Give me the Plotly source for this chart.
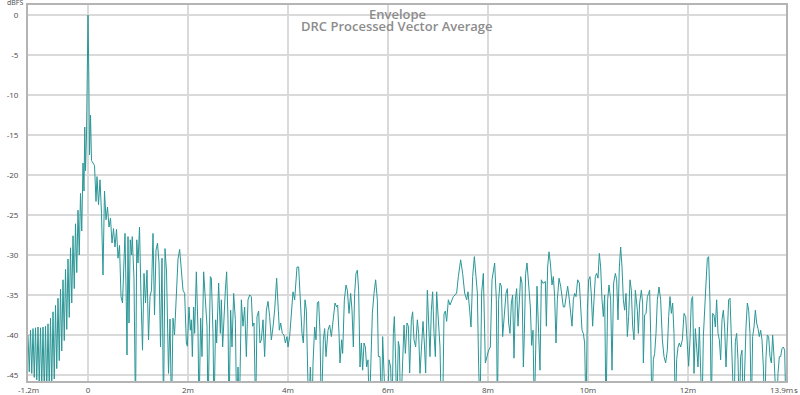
import plotly.graph_objects as go

# ---------------- data (time in ms, level in dBFS) ----------------
# values below the axis floor are written as -50 (clipped by the axis)
pre_ring = [
    (-1.200, -40.0), (-1.175, -44.6), (-1.150, -39.4), (-1.125, -44.8), (-1.100, -39.2), (-1.075, -45.3),
    (-1.050, -39.1), (-1.025, -45.6), (-1.000, -39.0), (-0.975, -46.0), (-0.950, -39.1), (-0.925, -46.5),
    (-0.900, -39.0), (-0.875, -47.0), (-0.850, -38.9), (-0.825, -47.0), (-0.800, -38.6), (-0.775, -46.8),
    (-0.750, -37.9), (-0.725, -46.3), (-0.700, -37.1), (-0.675, -45.5), (-0.650, -36.3), (-0.625, -44.2),
    (-0.600, -35.4), (-0.575, -43.2), (-0.550, -34.3), (-0.525, -42.0), (-0.500, -33.1), (-0.475, -40.7),
    (-0.450, -31.8), (-0.425, -39.3), (-0.400, -30.5), (-0.375, -37.8), (-0.350, -29.1), (-0.325, -36.0),
    (-0.300, -27.6), (-0.275, -34.2), (-0.250, -26.1), (-0.225, -32.2), (-0.200, -24.4), (-0.175, -30.0),
    (-0.150, -22.3), (-0.125, -27.0), (-0.100, -18.5), (-0.080, -22.0), (-0.065, -14.0), (-0.050, -19.5),
]

main_peak = [
    (-0.03, -15.0), (-0.015, -6.0), (0.0, 0.0), (0.015, -7.0), (0.03, -17.5),
    (0.05, -12.5), (0.07, -18.2), (0.10, -18.5), (0.13, -18.8),
]

early_decay = [
    (0.16, -23.3), (0.18, -20.2), (0.21, -23.7), (0.24, -20.6), (0.27, -24.8), (0.30, -32.5),
    (0.33, -22.0), (0.36, -25.6), (0.39, -24.0), (0.42, -26.5), (0.45, -25.4), (0.48, -28.5),
    (0.51, -26.7), (0.54, -29.0), (0.57, -26.8), (0.60, -30.4), (0.63, -28.8), (0.66, -35.2),
    (0.69, -36.0), (0.72, -30.0), (0.74, -27.3), (0.765, -35.8), (0.78, -42.5), (0.80, -27.7),
    (0.82, -38.5), (0.845, -28.1), (0.87, -30.0), (0.885, -27.7), (0.92, -33.0), (0.95, -50.0),
    (0.975, -28.1), (1.00, -31.0), (1.03, -26.5), (1.06, -35.2), (1.09, -41.9), (1.12, -32.3),
    (1.15, -36.0), (1.18, -31.9), (1.21, -40.6), (1.24, -35.2), (1.27, -34.4), (1.30, -27.3),
    (1.33, -37.5), (1.36, -29.4), (1.39, -28.5), (1.42, -31.0), (1.45, -41.5), (1.48, -30.4),
    (1.51, -50.0), (1.54, -29.2), (1.57, -32.0), (1.61, -44.8), (1.64, -38.0), (1.67, -50.0),
    (1.70, -37.9), (1.73, -40.0), (1.76, -35.4), (1.80, -30.5),
]

tail_2_5ms = [
    (1.833, -29.3), (1.900, -34.4), (1.933, -34.8), (1.967, -41.0), (1.987, -41.4), (2.020, -36.5),
    (2.047, -39.4), (2.067, -38.1), (2.087, -42.7), (2.113, -36.5), (2.133, -39.8), (2.167, -32.1),
    (2.200, -39.4), (2.220, -50.0), (2.253, -37.9), (2.280, -42.7), (2.313, -32.1), (2.347, -36.0),
    (2.380, -38.9), (2.400, -50.0), (2.447, -32.7), (2.467, -32.9), (2.500, -39.8), (2.520, -50.0),
    (2.553, -38.1), (2.573, -41.0), (2.613, -33.5), (2.647, -39.8), (2.667, -35.6), (2.693, -41.5),
    (2.720, -36.9), (2.747, -34.4), (2.773, -32.1), (2.800, -38.1), (2.820, -50.0), (2.853, -36.9),
    (2.880, -41.5), (2.913, -34.8), (2.947, -38.1), (2.973, -50.0), (3.000, -44.0), (3.027, -50.0),
    (3.067, -35.6), (3.100, -38.9), (3.133, -36.5), (3.167, -42.7), (3.200, -35.6), (3.233, -35.0),
    (3.267, -35.2), (3.293, -38.9), (3.320, -38.5), (3.353, -50.0), (3.380, -37.7), (3.413, -37.0),
    (3.440, -41.0), (3.467, -40.6), (3.500, -38.1), (3.533, -42.7), (3.567, -36.9), (3.600, -35.8),
    (3.633, -37.7), (3.667, -40.6), (3.700, -39.0), (3.733, -36.9), (3.773, -32.9), (3.800, -35.6),
    (3.827, -39.4), (3.853, -38.5), (3.887, -39.8), (3.920, -40.0), (3.947, -41.0), (3.980, -40.2),
    (4.000, -41.5), (4.033, -40.2), (4.067, -36.9), (4.100, -34.6), (4.133, -35.6), (4.153, -34.2),
    (4.180, -31.5), (4.213, -31.5), (4.247, -35.6), (4.280, -39.8), (4.307, -41.0), (4.340, -35.6),
    (4.367, -36.9), (4.393, -42.3), (4.413, -50.0), (4.447, -44.0), (4.480, -50.0), (4.500, -43.6),
    (4.533, -39.0), (4.560, -40.6), (4.587, -36.0), (4.613, -35.8), (4.640, -39.8), (4.667, -50.0),
    (4.707, -40.6), (4.733, -39.2), (4.760, -42.7), (4.800, -39.4), (4.833, -38.75), (4.867, -40.2),
]

tail_5_8ms = [
    (4.907, -38.1), (4.940, -36.0), (4.973, -36.5), (4.993, -36.25), (5.020, -39.8), (5.040, -43.5),
    (5.073, -40.6), (5.093, -42.3), (5.127, -35.6), (5.160, -33.75), (5.187, -34.4), (5.220, -37.3),
    (5.253, -34.8), (5.280, -36.9), (5.307, -41.5), (5.333, -34.8), (5.360, -32.3), (5.387, -31.9),
    (5.413, -34.4), (5.440, -44.0), (5.467, -41.0), (5.493, -44.4), (5.520, -41.0), (5.547, -41.5),
    (5.573, -44.0), (5.600, -43.1), (5.627, -50.0), (5.653, -43.5), (5.687, -37.3), (5.720, -34.8),
    (5.753, -33.1), (5.787, -35.6), (5.807, -42.7), (5.840, -42.7), (5.873, -50.0), (5.893, -40.2),
    (5.920, -44.4), (5.953, -50.0), (5.987, -50.0), (6.020, -43.1), (6.053, -44.0), (6.080, -50.0),
    (6.107, -39.8), (6.127, -37.7), (6.153, -43.1), (6.173, -50.0), (6.207, -40.8), (6.227, -41.5),
    (6.253, -50.0), (6.287, -44.0), (6.320, -38.75), (6.347, -42.3), (6.380, -38.5), (6.407, -38.9),
    (6.433, -44.75), (6.467, -38.1), (6.493, -37.1), (6.520, -40.6), (6.553, -41.5), (6.587, -38.1),
    (6.613, -39.8), (6.640, -44.8), (6.673, -40.2), (6.700, -38.3), (6.727, -41.0), (6.753, -44.75),
    (6.787, -34.4), (6.813, -38.1), (6.840, -42.7), (6.867, -36.9), (6.893, -34.6), (6.920, -39.8),
    (6.947, -42.7), (6.973, -34.6), (7.007, -38.9), (7.040, -41.5), (7.067, -50.0), (7.093, -50.0),
    (7.120, -37.4), (7.147, -37.0), (7.173, -38.3), (7.207, -35.6), (7.240, -36.25), (7.273, -35.6),
    (7.307, -35.2), (7.340, -35.0), (7.373, -34.75), (7.407, -32.7), (7.453, -30.6), (7.493, -32.3),
    (7.533, -34.75), (7.573, -35.6), (7.600, -34.6), (7.633, -36.9), (7.660, -39.0), (7.693, -32.7),
    (7.727, -30.2), (7.760, -32.7), (7.787, -34.75), (7.813, -43.9), (7.840, -50.0), (7.873, -34.75),
    (7.907, -32.3),
]

tail_8_11ms = [
    (7.947, -43.5), (7.980, -42.7), (8.013, -41.9), (8.047, -41.5), (8.080, -33.1), (8.133, -31.0),
    (8.167, -35.6), (8.187, -50.0), (8.213, -35.6), (8.240, -33.5), (8.267, -33.9), (8.293, -40.2),
    (8.327, -36.9), (8.360, -34.8), (8.387, -34.2), (8.413, -38.5), (8.440, -39.8), (8.467, -36.0),
    (8.493, -35.0), (8.520, -42.9), (8.547, -35.6), (8.573, -34.2), (8.600, -38.9), (8.627, -35.6),
    (8.653, -32.7), (8.680, -33.5), (8.707, -44.0), (8.727, -39.8), (8.753, -32.3), (8.780, -31.0),
    (8.813, -33.5), (8.847, -36.5), (8.873, -41.3), (8.900, -39.4), (8.927, -50.0), (8.953, -39.8),
    (8.980, -33.9), (9.013, -39.8), (9.040, -44.4), (9.067, -33.1), (9.093, -33.5), (9.120, -33.5),
    (9.147, -33.3), (9.167, -38.9), (9.193, -31.5), (9.220, -29.6), (9.247, -31.0), (9.280, -33.75),
    (9.307, -32.7), (9.333, -35.2), (9.360, -41.0), (9.387, -35.6), (9.420, -32.9), (9.453, -33.9),
    (9.480, -35.2), (9.507, -36.5), (9.533, -36.5), (9.560, -35.2), (9.593, -33.9), (9.627, -35.6),
    (9.653, -37.1), (9.680, -38.9), (9.707, -35.6), (9.733, -34.8), (9.760, -35.2), (9.793, -33.1),
    (9.827, -33.5), (9.853, -36.9), (9.880, -39.4), (9.907, -39.8), (9.933, -41.0), (9.960, -50.0),
    (9.987, -36.9), (10.013, -33.1), (10.040, -32.7), (10.067, -35.0), (10.093, -38.9), (10.120, -35.6),
    (10.147, -32.7), (10.173, -32.3), (10.200, -32.9), (10.227, -29.8), (10.253, -31.5), (10.280, -35.6),
    (10.307, -37.7), (10.333, -35.0), (10.360, -50.0), (10.393, -35.6), (10.420, -33.75), (10.453, -35.6),
    (10.480, -44.4), (10.513, -33.5), (10.547, -32.3), (10.573, -33.1), (10.600, -38.1), (10.627, -31.5),
    (10.653, -29.0), (10.680, -31.5), (10.707, -35.6), (10.733, -36.9), (10.760, -34.8), (10.787, -40.2),
    (10.813, -37.7), (10.840, -33.1), (10.867, -34.4), (10.893, -38.9), (10.920, -40.6), (10.947, -34.4),
]

tail_11_14ms = [
    (10.987, -36.9), (11.007, -39.8), (11.033, -36.0), (11.067, -34.4), (11.093, -36.0), (11.107, -43.5),
    (11.133, -37.5), (11.160, -37.3), (11.187, -35.2), (11.213, -34.8), (11.233, -34.4), (11.253, -39.8),
    (11.280, -50.0), (11.307, -43.1), (11.333, -42.3), (11.360, -39.8), (11.387, -35.6), (11.420, -34.0),
    (11.453, -35.6), (11.487, -40.6), (11.520, -42.7), (11.553, -43.5), (11.587, -41.9), (11.613, -37.7),
    (11.640, -35.2), (11.667, -37.3), (11.693, -36.0), (11.720, -39.8), (11.747, -50.0), (11.773, -43.1),
    (11.800, -41.5), (11.827, -41.0), (11.853, -41.5), (11.887, -40.6), (11.920, -37.3), (11.953, -37.7),
    (11.987, -41.0), (12.013, -43.9), (12.040, -40.6), (12.067, -35.6), (12.093, -35.2), (12.120, -44.8),
    (12.147, -39.2), (12.173, -41.5), (12.200, -44.0), (12.227, -39.0), (12.253, -42.7), (12.280, -50.0),
    (12.307, -40.2), (12.333, -36.0), (12.360, -33.5), (12.387, -30.4), (12.413, -30.2), (12.440, -36.0),
    (12.467, -50.0), (12.493, -37.3), (12.520, -37.5), (12.547, -39.0), (12.573, -35.6), (12.600, -39.8),
    (12.627, -40.6), (12.653, -43.1), (12.680, -38.1), (12.707, -36.9), (12.733, -39.0), (12.760, -44.0),
    (12.787, -40.6), (12.813, -35.6), (12.840, -35.4), (12.867, -40.6), (12.893, -50.0), (12.920, -50.0),
    (12.947, -40.8), (12.973, -39.8), (13.000, -43.1), (13.027, -50.0), (13.053, -42.7), (13.080, -41.9),
    (13.107, -50.0), (13.133, -44.0), (13.160, -39.0), (13.187, -36.0), (13.213, -36.9), (13.240, -39.8),
    (13.267, -50.0), (13.293, -40.2), (13.320, -39.0), (13.347, -36.9), (13.373, -38.5), (13.400, -39.2),
    (13.427, -40.2), (13.453, -39.4), (13.480, -40.6), (13.507, -44.0), (13.533, -50.0), (13.560, -42.7),
    (13.587, -40.0), (13.613, -40.2), (13.640, -42.7), (13.667, -43.5), (13.693, -40.0), (13.720, -42.7),
    (13.747, -50.0), (13.773, -50.0), (13.800, -44.8), (13.827, -42.7), (13.853, -42.7), (13.880, -41.7),
    (13.907, -41.5), (13.933, -41.9), (13.960, -50.0),
]

y_ticks = [0, -5, -10, -15, -20, -25, -30, -35, -40, -45]
x_ticks = [0, 2, 4, 6, 8, 10, 12]
x_tick_labels = ["0", "2m", "4m", "6m", "8m", "10m", "12m"]
title_lines = ["Envelope", "DRC Processed Vector Average"]

# ---------------- figure ----------------
segments = [pre_ring, main_peak, early_decay, tail_2_5ms, tail_5_8ms, tail_8_11ms, tail_11_14ms]
t_all, db_all = [], []
for seg in segments:
    for t, v in seg:
        t_all.append(t)
        db_all.append(v)

LINE = "#2b9696"
GRID = "#dadada"
FRAME = "#b4b4b4"
TICKC = "#4a4a4a"
FONT = "Open Sans"

fig = go.Figure()
fig.add_trace(go.Scatter(x=t_all, y=db_all, mode="lines",
                         line=dict(color=LINE, width=1.0), hoverinfo="skip"))

fig.update_layout(
    width=800, height=395,
    margin=dict(l=28, r=14, t=5, b=14, autoexpand=False),
    plot_bgcolor="white", paper_bgcolor="white",
    showlegend=False,
    font=dict(family=FONT, size=8, color=TICKC),
)
fig.update_xaxes(
    range=[-1.2, 13.96], tickvals=x_ticks, ticktext=x_tick_labels, automargin=False,
    showgrid=True, gridcolor=GRID, gridwidth=1.5, zeroline=False,
    showline=True, linecolor=FRAME, linewidth=2, mirror=True,
    ticks="", tickfont=dict(size=8, color=TICKC),
)
fig.update_yaxes(
    range=[-45.75, 1.25], tickvals=y_ticks, ticktext=[str(v) for v in y_ticks], automargin=False,
    showgrid=True, gridcolor=GRID, gridwidth=1.5, zeroline=False,
    showline=True, linecolor=FRAME, linewidth=2, mirror=True,
    ticks="", ticklabelstandoff=6, tickfont=dict(size=8, color=TICKC),
)

# edge tick labels and unit labels
fig.add_annotation(x=-1.2, y=0, xref="x", yref="paper", text="-1.2m", showarrow=False,
                   yanchor="top", yshift=-1, font=dict(size=8, color=TICKC))
fig.add_annotation(x=13.9, y=0, xref="x", yref="paper", text="13.9m", showarrow=False,
                   yanchor="top", yshift=-1, xshift=-2, font=dict(size=8, color=TICKC))
fig.add_annotation(x=1, y=0, xref="paper", yref="paper", text="s", showarrow=False,
                   xanchor="left", yanchor="top", xshift=6, yshift=-1, font=dict(size=8, color=TICKC))
fig.add_annotation(x=0, y=1, xref="paper", yref="paper", text="dBFS", showarrow=False,
                   xanchor="right", yanchor="middle", xshift=-3, yshift=3, font=dict(size=7, color=TICKC))

# title (two centered lines inside the top of the plot)
fig.add_annotation(x=0.5, y=1, xref="paper", yref="paper", text=title_lines[0], showarrow=False,
                   xanchor="center", yanchor="middle", yshift=-9, xshift=-10,
                   font=dict(family=FONT, size=13, color="#8c8c8c", weight=600))
fig.add_annotation(x=0.5, y=1, xref="paper", yref="paper", text=title_lines[1], showarrow=False,
                   xanchor="center", yanchor="middle", yshift=-21, xshift=-10,
                   font=dict(family=FONT, size=13, color="#8c8c8c", weight=600))

fig.write_html("out.html", config={"displayModeBar": False},
               post_script="document.body.style.margin='0';document.body.style.padding='0';")
